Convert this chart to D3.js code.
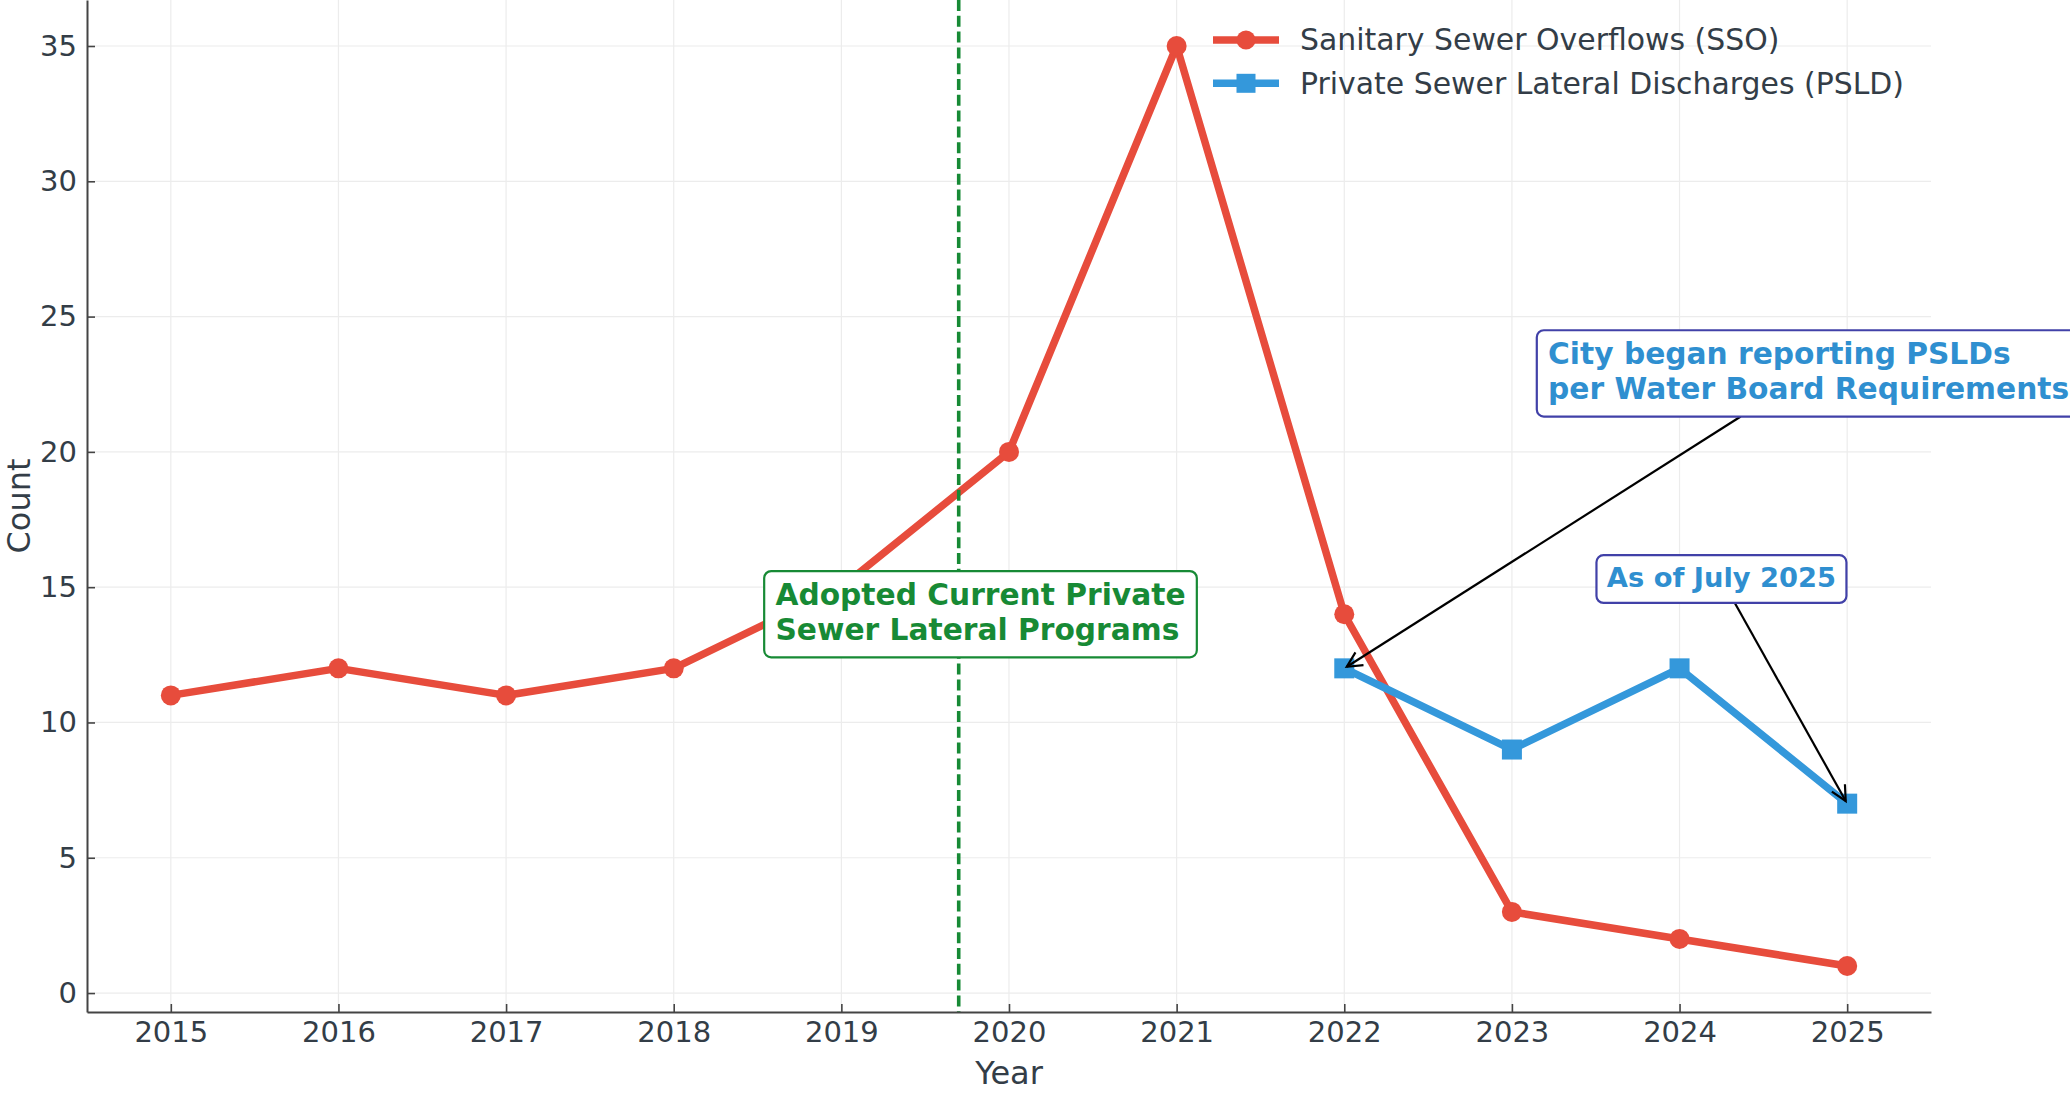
<!DOCTYPE html>
<html>
<head>
<meta charset="utf-8">
<script src="https://cdn.jsdelivr.net/npm/d3@7"></script>
<style>
  html, body { margin: 0; padding: 0; background: #fff; }
  svg { display: block; font-family: "DejaVu Sans", sans-serif; }
</style>
</head>
<body>
<div class="container"></div>
<script>
// data
var years = [2015, 2016, 2017, 2018, 2019, 2020, 2021, 2022, 2023, 2024, 2025];
var ssoValues = [11, 12, 11, 12, 15, 20, 35, 14, 3, 2, 1];
var psldYears = [2022, 2023, 2024, 2025];
var psldValues = [12, 9, 12, 7];
var yTicks = [0, 5, 10, 15, 20, 25, 30, 35];
var seriesNames = ["Sanitary Sewer Overflows (SSO)", "Private Sewer Lateral Discharges (PSLD)"];
var programYear = 2019.7;

// annotation texts, text centre (data coords) and arrow target (data coords)
var noteLines = [
  ["Adopted Current Private", "Sewer Lateral Programs"],
  ["City began reporting PSLDs", "per Water Board Requirements"],
  ["As of July 2025"]
];
var noteCentres = [[2019.83, 14.0], [2024.77, 22.9], [2024.25, 15.3]];
var noteTargets = [null, [2022, 12], [2025, 7]];

var red = "#e74c3c", blue = "#3498db", green = "#178a35",
  textColor = "#333d47", axisColor = "#444";

var width = 2070, height = 1094,
  plotLeft = 87, plotRight = 1931, plotBottom = 1012, plotTop = 0;

var x = d3.scaleLinear().domain([2014.5, 2025.5]).range([plotLeft, plotRight]);
var y = d3.scaleLinear().domain([-0.7, 36.7]).range([plotBottom, plotTop]);

var svg = d3.select(".container").append("svg")
  .attr("width", width)
  .attr("height", height);

// grid
var grid = svg.append("g").attr("class", "grid")
  .attr("stroke", "#ececec").attr("stroke-width", 1.2);
grid.selectAll(".vgrid").data(years).enter().append("line")
  .attr("x1", d => x(d)).attr("x2", d => x(d))
  .attr("y1", plotTop).attr("y2", plotBottom);
grid.selectAll(".hgrid").data(yTicks).enter().append("line")
  .attr("x1", plotLeft).attr("x2", plotRight)
  .attr("y1", d => y(d)).attr("y2", d => y(d));

// series
var sso = years.map((yr, i) => ({ year: yr, value: ssoValues[i] }));
var psld = psldYears.map((yr, i) => ({ year: yr, value: psldValues[i] }));
var line = d3.line().x(d => x(d.year)).y(d => y(d.value));

svg.append("path").datum(sso)
  .attr("d", line).attr("fill", "none")
  .attr("stroke", red).attr("stroke-width", 7.5)
  .attr("stroke-linejoin", "round");
svg.append("g").selectAll("circle").data(sso).enter().append("circle")
  .attr("cx", d => x(d.year)).attr("cy", d => y(d.value))
  .attr("r", 10).attr("fill", red);

svg.append("path").datum(psld)
  .attr("d", line).attr("fill", "none")
  .attr("stroke", blue).attr("stroke-width", 7.5)
  .attr("stroke-linejoin", "round");
svg.append("g").selectAll("rect").data(psld).enter().append("rect")
  .attr("x", d => x(d.year) - 10).attr("y", d => y(d.value) - 10)
  .attr("width", 20).attr("height", 20).attr("fill", blue);

// program adoption line
svg.append("line")
  .attr("x1", x(programYear)).attr("x2", x(programYear))
  .attr("y1", plotTop).attr("y2", plotBottom)
  .attr("stroke", green).attr("stroke-width", 3.6)
  .attr("stroke-dasharray", "11,4.8");

// axes
function styleAxis(g) {
  g.attr("font-family", null).attr("font-size", null);
  g.select(".domain").attr("stroke", axisColor).attr("stroke-width", 2);
  g.selectAll(".tick line").attr("stroke", axisColor).attr("stroke-width", 1.6);
  g.selectAll(".tick text").attr("fill", textColor).attr("font-size", 29);
}

svg.append("g")
  .attr("transform", "translate(0," + plotBottom + ")")
  .call(d3.axisBottom(x).tickValues(years).tickFormat(d3.format("d"))
    .tickSizeInner(-8).tickSizeOuter(0).tickPadding(9))
  .call(styleAxis);

svg.append("g")
  .attr("transform", "translate(" + plotLeft + ",0)")
  .call(d3.axisLeft(y).tickValues(yTicks)
    .tickSizeInner(-8).tickSizeOuter(0).tickPadding(10))
  .call(styleAxis);

svg.append("text")
  .attr("x", (plotLeft + plotRight) / 2).attr("y", 1084)
  .attr("text-anchor", "middle").attr("font-size", 32).attr("fill", textColor)
  .text("Year");

svg.append("text")
  .attr("transform", "translate(30," + (plotBottom + plotTop) / 2 + ") rotate(-90)")
  .attr("text-anchor", "middle").attr("font-size", 32).attr("fill", textColor)
  .text("Count");

// annotations
var noteStyles = [
  { size: 29.7, color: green, edge: green },
  { size: 29.7, color: "#2f8fd0", edge: "#4141a8" },
  { size: 27.3, color: "#2f8fd0", edge: "#4141a8" }
];
var arrowLayer = svg.append("g");
var noteLayer = svg.append("g");

noteLines.forEach(function(lines, i) {
  var st = noteStyles[i], fs = st.size, lh = fs * 1.155;
  var g = noteLayer.append("g");
  var box = g.append("rect");
  var t = g.append("text")
    .attr("font-weight", "bold").attr("font-size", fs).attr("fill", st.color);
  lines.forEach(function(s, k) {
    t.append("tspan").attr("x", 0).attr("y", k * lh).text(s);
  });
  var bb = t.node().getBBox();
  var bx0 = bb.x - 0.38 * fs, bx1 = bb.x + bb.width + 0.38 * fs;
  var by0 = -1.15 * fs, by1 = (lines.length - 1) * lh + 0.6 * fs;
  var cx = x(noteCentres[i][0]), cy = y(noteCentres[i][1]);
  var ox = cx - (bx0 + bx1) / 2, oy = cy - (by0 + by1) / 2;
  g.attr("transform", "translate(" + ox + "," + oy + ")");
  box.attr("x", bx0).attr("y", by0)
    .attr("width", bx1 - bx0).attr("height", by1 - by0)
    .attr("rx", 7).attr("ry", 7)
    .attr("fill", "#fff").attr("stroke", st.edge).attr("stroke-width", 2.2);

  var target = noteTargets[i];
  if (!target) return;
  var tx = x(target[0]), ty = y(target[1]);
  var dx = tx - cx, dy = ty - cy, len = Math.hypot(dx, dy);
  var hw = (bx1 - bx0) / 2, hh = (by1 - by0) / 2;
  var s0 = Math.min(hw / Math.abs(dx || 1e-9), hh / Math.abs(dy || 1e-9));
  var ux = dx / len, uy = dy / len;
  var sx = cx + dx * s0, sy = cy + dy * s0;
  var ex = tx - ux * 3, ey = ty - uy * 3;
  arrowLayer.append("line")
    .attr("x1", sx).attr("y1", sy).attr("x2", ex).attr("y2", ey)
    .attr("stroke", "#000").attr("stroke-width", 2.2);
  var hl = 15, hwid = 7.5;
  var bxp = ex - ux * hl, byp = ey - uy * hl;
  arrowLayer.append("path")
    .attr("d", "M" + (bxp - uy * hwid) + "," + (byp + ux * hwid) +
      "L" + ex + "," + ey +
      "L" + (bxp + uy * hwid) + "," + (byp - ux * hwid))
    .attr("fill", "none").attr("stroke", "#000").attr("stroke-width", 2.2);
});

// legend
var legend = svg.append("g").attr("transform", "translate(1213,40)");
seriesNames.forEach(function(name, i) {
  var row = legend.append("g").attr("transform", "translate(0," + i * 43.3 + ")");
  var c = i === 0 ? red : blue;
  row.append("line").attr("x1", 0).attr("x2", 66)
    .attr("stroke", c).attr("stroke-width", 7.5);
  if (i === 0) {
    row.append("circle").attr("cx", 33).attr("cy", 0).attr("r", 9.5).attr("fill", c);
  } else {
    row.append("rect").attr("x", 23.5).attr("y", -9.5)
      .attr("width", 19).attr("height", 19).attr("fill", c);
  }
  row.append("text").attr("x", 87).attr("dy", "0.35em")
    .attr("font-size", 29.9).attr("fill", textColor).text(name);
});
</script>
</body>
</html>
